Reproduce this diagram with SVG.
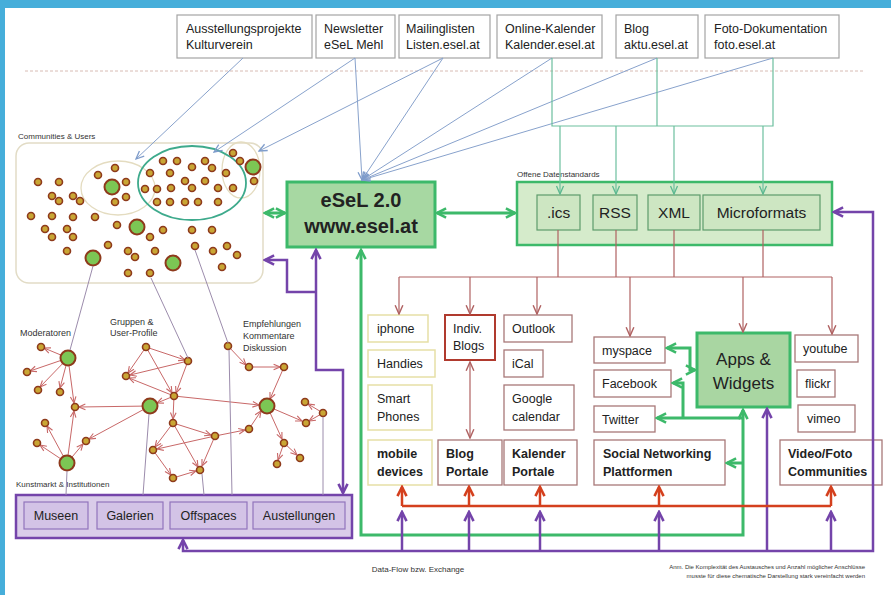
<svg xmlns="http://www.w3.org/2000/svg" width="891" height="595" viewBox="0 0 891 595">
<defs>
<style>
.t{font-family:"Liberation Sans",Arial,sans-serif;font-size:12.5px;fill:#222}
.b{font-weight:bold}
.s{font-family:"Liberation Sans",Arial,sans-serif;font-size:8px;fill:#333}
.l9{font-family:"Liberation Sans",Arial,sans-serif;font-size:9px;fill:#333}
.top{fill:#fff;stroke:#A4A4A4;stroke-width:1.2}
.yb{fill:#fff;stroke:#E6DFA6;stroke-width:1.5}
.rb{fill:#fff;stroke:#A87878;stroke-width:1.3}
.ib{fill:#CDE6C2;stroke:#5E9C6C;stroke-width:1.2}
.pb{fill:#D3C3E6;stroke:#9274BC;stroke-width:1.2}
.n{fill:#C9A634;stroke:#8E3A1C;stroke-width:1.6}
.N{fill:#7CC654;stroke:#8E3A1C;stroke-width:2}
.bl{stroke:#88A2CC;stroke-width:1;fill:none}
.gl{stroke:#6CBF9E;stroke-width:1.2;fill:none}
.br{stroke:#B06262;stroke-width:1.2;fill:none}
.ne{stroke:#C86868;stroke-width:1;fill:none;marker-end:url(#aN)}
.gy{stroke:#9C8CAC;stroke-width:1;fill:none}
.gg{stroke:#3DB96A;stroke-width:3;fill:none}
.pp{stroke:#7444AA;stroke-width:2.5;fill:none}
.rr{stroke:#D4401E;stroke-width:2.5;fill:none}
</style>
<marker id="aB" markerUnits="userSpaceOnUse" markerWidth="10" markerHeight="10" viewBox="0 0 10 10" refX="9" refY="5" orient="auto-start-reverse"><path d="M1,1.5 L9,5 L1,8.5" fill="none" stroke="#7E9CCB" stroke-width="1.3"/></marker>
<marker id="aG" markerUnits="userSpaceOnUse" markerWidth="10" markerHeight="10" viewBox="0 0 10 10" refX="9" refY="5" orient="auto-start-reverse"><path d="M1,1.5 L9,5 L1,8.5" fill="none" stroke="#5CB890" stroke-width="1.3"/></marker>
<marker id="aR" markerUnits="userSpaceOnUse" markerWidth="11" markerHeight="11" viewBox="0 0 10 10" refX="9" refY="5" orient="auto-start-reverse"><path d="M1,1.5 L9,5 L1,8.5" fill="none" stroke="#B06262" stroke-width="1.3"/></marker>
<marker id="aN" markerUnits="userSpaceOnUse" markerWidth="8" markerHeight="8" viewBox="0 0 10 10" refX="9" refY="5" orient="auto-start-reverse"><path d="M1,1.5 L9,5 L1,8.5" fill="none" stroke="#C86868" stroke-width="1.4"/></marker>
<marker id="aGG" markerUnits="userSpaceOnUse" markerWidth="13" markerHeight="13" viewBox="0 0 10 10" refX="8.5" refY="5" orient="auto-start-reverse"><path d="M1.5,1.5 L8.5,5 L1.5,8.5" fill="none" stroke="#3DB96A" stroke-width="2"/></marker>
<marker id="aP" markerUnits="userSpaceOnUse" markerWidth="13" markerHeight="13" viewBox="0 0 10 10" refX="8.5" refY="5" orient="auto-start-reverse"><path d="M1.5,1.5 L8.5,5 L1.5,8.5" fill="none" stroke="#7444AA" stroke-width="2"/></marker>
<marker id="aRR" markerUnits="userSpaceOnUse" markerWidth="13" markerHeight="13" viewBox="0 0 10 10" refX="8.5" refY="5" orient="auto-start-reverse"><path d="M1.5,1.5 L8.5,5 L1.5,8.5" fill="none" stroke="#D4401E" stroke-width="2"/></marker>
</defs>

<rect x="0" y="0" width="891" height="595" fill="#46AEDA"/>
<rect x="5" y="8" width="886" height="587" fill="#fff"/>
<line x1="25" y1="71" x2="865" y2="71" stroke="#D8BCB4" stroke-width="1" stroke-dasharray="3,2"/>

<!-- top nodes -->
<g id="ausstellungsprojekte"><rect class="top" x="177" y="15" width="135" height="43"/><text class="t" x="186" y="33">Ausstellungsprojekte</text><text class="t" x="186" y="49">Kulturverein</text></g>
<g id="newsletter"><rect class="top" x="316" y="15" width="79" height="43"/><text class="t" x="324" y="33">Newsletter</text><text class="t" x="324" y="49">eSeL Mehl</text></g>
<g id="mailinglisten"><rect class="top" x="399" y="15" width="91" height="43"/><text class="t" x="406" y="33">Mailinglisten</text><text class="t" x="406" y="49">Listen.esel.at</text></g>
<g id="kalender"><rect class="top" x="497" y="15" width="105" height="43"/><text class="t" x="505" y="33">Online-Kalender</text><text class="t" x="505" y="49">Kalender.esel.at</text></g>
<g id="blog"><rect class="top" x="616" y="15" width="82" height="43"/><text class="t" x="624" y="33">Blog</text><text class="t" x="624" y="49">aktu.esel.at</text></g>
<g id="foto"><rect class="top" x="705" y="15" width="134" height="43"/><text class="t" x="714" y="33">Foto-Dokumentation</text><text class="t" x="714" y="49">foto.esel.at</text></g>

<!-- communities -->
<g id="communities">
<text class="s" x="18" y="139">Communities &amp;  Users</text>
<rect x="16" y="143" width="247" height="140" rx="13" fill="#fff" stroke="#E2DCC6" stroke-width="1.5"/>
<ellipse cx="118" cy="188" rx="37" ry="27" fill="none" stroke="#E4DCC0" stroke-width="1.3"/>
<ellipse cx="241" cy="170" rx="19" ry="28" fill="none" stroke="#E4DCC0" stroke-width="1.3"/>
<ellipse cx="192" cy="183" rx="54" ry="37" fill="none" stroke="#3EAA8C" stroke-width="1.8"/>
<g>
<circle class="n" cx="115" cy="168" r="3.5"/><circle class="n" cx="98" cy="175" r="3.5"/><circle class="n" cx="126" cy="182" r="3.5"/><circle class="n" cx="126" cy="197" r="3.5"/><circle class="n" cx="115" cy="202" r="3.5"/><circle class="n" cx="38" cy="182" r="3.5"/><circle class="n" cx="59" cy="182" r="3.5"/><circle class="n" cx="52" cy="196" r="3.5"/><circle class="n" cx="59" cy="201" r="3.5"/><circle class="n" cx="73" cy="196" r="3.5"/><circle class="n" cx="80" cy="201" r="3.5"/><circle class="n" cx="31" cy="216" r="3.5"/><circle class="n" cx="52" cy="216" r="3.5"/><circle class="n" cx="73" cy="217" r="3.5"/><circle class="n" cx="95" cy="217" r="3.5"/><circle class="n" cx="45" cy="229" r="3.5"/><circle class="n" cx="52" cy="237" r="3.5"/><circle class="n" cx="67" cy="229" r="3.5"/><circle class="n" cx="73" cy="237" r="3.5"/><circle class="n" cx="67" cy="251" r="3.5"/><circle class="n" cx="117" cy="225" r="3.5"/><circle class="n" cx="150" cy="237" r="3.5"/><circle class="n" cx="163" cy="230" r="3.5"/><circle class="n" cx="108" cy="245" r="3.5"/><circle class="n" cx="128" cy="251" r="3.5"/><circle class="n" cx="135" cy="257" r="3.5"/><circle class="n" cx="155" cy="251" r="3.5"/><circle class="n" cx="128" cy="273" r="3.5"/><circle class="n" cx="150" cy="273" r="3.5"/><circle class="n" cx="192" cy="230" r="3.5"/><circle class="n" cx="212" cy="230" r="3.5"/><circle class="n" cx="195" cy="246" r="3.5"/><circle class="n" cx="213" cy="251" r="3.5"/><circle class="n" cx="227" cy="246" r="3.5"/><circle class="n" cx="237" cy="255" r="3.5"/><circle class="n" cx="222" cy="267" r="3.5"/>
<circle class="n" cx="163" cy="161" r="3.5"/><circle class="n" cx="177" cy="161" r="3.5"/><circle class="n" cx="192" cy="167" r="3.5"/><circle class="n" cx="205" cy="161" r="3.5"/><circle class="n" cx="212" cy="168" r="3.5"/><circle class="n" cx="150" cy="173" r="3.5"/><circle class="n" cx="170" cy="173" r="3.5"/><circle class="n" cx="185" cy="181" r="3.5"/><circle class="n" cx="192" cy="188" r="3.5"/><circle class="n" cx="205" cy="181" r="3.5"/><circle class="n" cx="226" cy="173" r="3.5"/><circle class="n" cx="145" cy="189" r="3.5"/><circle class="n" cx="157" cy="189" r="3.5"/><circle class="n" cx="171" cy="188" r="3.5"/><circle class="n" cx="218" cy="188" r="3.5"/><circle class="n" cx="233" cy="188" r="3.5"/><circle class="n" cx="157" cy="202" r="3.5"/><circle class="n" cx="170" cy="202" r="3.5"/><circle class="n" cx="185" cy="202" r="3.5"/><circle class="n" cx="198" cy="202" r="3.5"/><circle class="n" cx="218" cy="202" r="3.5"/><circle class="n" cx="233" cy="153" r="3.5"/><circle class="n" cx="240" cy="161" r="3.5"/><circle class="n" cx="254" cy="181" r="3.5"/>
<circle class="N" cx="112" cy="187" r="7.5"/><circle class="N" cx="137" cy="227" r="7.5"/><circle class="N" cx="93" cy="258" r="7.5"/><circle class="N" cx="173" cy="263" r="7.5"/><circle class="N" cx="253" cy="167" r="7.5"/>
</g>
</g>

<!-- eSeL -->
<g id="esel">
<rect x="287" y="182" width="148" height="65" fill="#A7D8A2" stroke="#3DB96A" stroke-width="3"/>
<text class="t b" x="361" y="207" text-anchor="middle" style="font-size:20px">eSeL 2.0</text>
<text class="t b" x="361" y="233" text-anchor="middle" style="font-size:20px">www.esel.at</text>
</g>

<!-- standards -->
<g id="standards">
<text class="s" x="517" y="177">Offene Datenstandards</text>
<rect x="517" y="182" width="315" height="63" fill="#D5EBCB" stroke="#3DB96A" stroke-width="2.5"/>
<rect class="ib" x="537" y="195" width="43" height="35"/><text class="t" x="558.5" y="218" text-anchor="middle" style="font-size:15.5px">.ics</text>
<rect class="ib" x="593" y="195" width="44" height="35"/><text class="t" x="615" y="218" text-anchor="middle" style="font-size:15.5px">RSS</text>
<rect class="ib" x="648" y="195" width="52" height="35"/><text class="t" x="674" y="218" text-anchor="middle" style="font-size:15.5px">XML</text>
<rect class="ib" x="703" y="195" width="117" height="35"/><text class="t" x="761.5" y="218" text-anchor="middle" style="font-size:15.5px">Microformats</text>
</g>

<!-- network graph -->
<g id="network">
<text class="l9" x="20" y="336">Moderatoren</text>
<text class="l9" x="110" y="325">Gruppen &amp;</text>
<text class="l9" x="110" y="336">User-Profile</text>
<text class="l9" x="243" y="327">Empfehlungen</text>
<text class="l9" x="243" y="339">Kommentare</text>
<text class="l9" x="243" y="351">Diskussion</text>
<g>
<line class="ne" x1="68" y1="358" x2="44" y2="348"/>
<line class="ne" x1="68" y1="358" x2="30" y2="371"/>
<line class="ne" x1="68" y1="358" x2="40" y2="387"/>
<line class="ne" x1="68" y1="358" x2="60" y2="388"/>
<line class="ne" x1="68" y1="358" x2="74" y2="403"/>
<line class="ne" x1="150" y1="406" x2="79" y2="407"/>
<line class="ne" x1="150" y1="406" x2="89" y2="439"/>
<line class="ne" x1="67" y1="463" x2="74" y2="411"/>
<line class="ne" x1="67" y1="463" x2="47" y2="426"/>
<line class="ne" x1="67" y1="463" x2="40" y2="445"/>
<line class="ne" x1="67" y1="463" x2="83" y2="444"/>
<line class="ne" x1="146" y1="347" x2="128" y2="373"/>
<line class="ne" x1="146" y1="347" x2="185" y2="360"/>
<line class="ne" x1="188" y1="361" x2="130" y2="375"/>
<line class="ne" x1="146" y1="347" x2="172" y2="393"/>
<line class="ne" x1="188" y1="361" x2="176" y2="393"/>
<line class="ne" x1="174" y1="396" x2="129" y2="378"/>
<line class="ne" x1="174" y1="396" x2="157" y2="403"/>
<line class="ne" x1="174" y1="396" x2="259" y2="405"/>
<line class="ne" x1="174" y1="396" x2="173" y2="419"/>
<line class="ne" x1="173" y1="423" x2="211" y2="435"/>
<line class="ne" x1="173" y1="423" x2="155" y2="447"/>
<line class="ne" x1="215" y1="436" x2="157" y2="449"/>
<line class="ne" x1="153" y1="450" x2="171" y2="475"/>
<line class="ne" x1="173" y1="478" x2="196" y2="471"/>
<line class="ne" x1="173" y1="423" x2="198" y2="467"/>
<line class="ne" x1="215" y1="436" x2="202" y2="466"/>
<line class="ne" x1="215" y1="436" x2="245" y2="430"/>
<line class="ne" x1="249" y1="429" x2="261" y2="411"/>
<line class="ne" x1="228" y1="346" x2="246" y2="365"/>
<line class="ne" x1="249" y1="367" x2="280" y2="367"/>
<line class="ne" x1="284" y1="367" x2="270" y2="399"/>
<line class="ne" x1="267" y1="406" x2="282" y2="439"/>
<line class="ne" x1="284" y1="443" x2="278" y2="460"/>
<line class="ne" x1="284" y1="443" x2="297" y2="455"/>
<line class="ne" x1="267" y1="406" x2="302" y2="421"/>
<line class="ne" x1="323" y1="413" x2="309" y2="421"/>
<line class="ne" x1="323" y1="413" x2="308" y2="404"/>
</g>
<g>
<circle class="n" cx="41" cy="347" r="3.5"/><circle class="n" cx="27" cy="372" r="3.5"/><circle class="n" cx="38" cy="390" r="3.5"/><circle class="n" cx="60" cy="392" r="3.5"/><circle class="n" cx="75" cy="407" r="3.5"/><circle class="n" cx="126" cy="376" r="3.5"/><circle class="n" cx="146" cy="347" r="3.5"/><circle class="n" cx="188" cy="361" r="3.5"/><circle class="n" cx="174" cy="396" r="3.5"/><circle class="n" cx="173" cy="423" r="3.5"/><circle class="n" cx="215" cy="436" r="3.5"/><circle class="n" cx="153" cy="450" r="3.5"/><circle class="n" cx="200" cy="470" r="3.5"/><circle class="n" cx="173" cy="478" r="3.5"/><circle class="n" cx="86" cy="441" r="3.5"/><circle class="n" cx="45" cy="423" r="3.5"/><circle class="n" cx="37" cy="443" r="3.5"/><circle class="n" cx="228" cy="346" r="3.5"/><circle class="n" cx="249" cy="367" r="3.5"/><circle class="n" cx="284" cy="367" r="3.5"/><circle class="n" cx="249" cy="429" r="3.5"/><circle class="n" cx="284" cy="443" r="3.5"/><circle class="n" cx="277" cy="464" r="3.5"/><circle class="n" cx="300" cy="458" r="3.5"/><circle class="n" cx="306" cy="423" r="3.5"/><circle class="n" cx="323" cy="413" r="3.5"/><circle class="n" cx="305" cy="402" r="3.5"/>
<circle class="N" cx="68" cy="358" r="7.5"/><circle class="N" cx="150" cy="406" r="7.5"/><circle class="N" cx="67" cy="463" r="7.5"/><circle class="N" cx="267" cy="406" r="7.5"/>
</g>
</g>

<!-- Kunstmarkt -->
<g id="kunstmarkt">
<text class="s" x="16" y="487">Kunstmarkt &amp; Institutionen</text>
<rect x="16" y="495" width="336" height="43" fill="#DACCE9" stroke="#7444AA" stroke-width="2.5"/>
<rect class="pb" x="24" y="502" width="64" height="27"/><text class="t" x="56" y="520" text-anchor="middle">Museen</text>
<rect class="pb" x="97" y="502" width="66" height="27"/><text class="t" x="130" y="520" text-anchor="middle">Galerien</text>
<rect class="pb" x="170" y="502" width="77" height="27"/><text class="t" x="208.5" y="520" text-anchor="middle">Offspaces</text>
<rect class="pb" x="253" y="502" width="92" height="27"/><text class="t" x="299" y="520" text-anchor="middle">Austellungen</text>
</g>

<!-- lower nodes -->
<g id="iphone"><rect class="yb" x="368" y="315" width="60" height="27"/><text class="t" x="377" y="333">iphone</text></g>
<g id="handies"><rect class="yb" x="368" y="350" width="67" height="27"/><text class="t" x="377" y="368">Handies</text></g>
<g id="smartphones"><rect class="yb" x="368" y="385" width="64" height="45"/><text class="t" x="377" y="403">Smart</text><text class="t" x="377" y="421">Phones</text></g>
<g id="mobile"><rect class="yb" x="368" y="440" width="64" height="45"/><text class="t b" x="377" y="458">mobile</text><text class="t b" x="377" y="476">devices</text></g>
<g id="indivblogs"><rect x="445" y="315" width="50" height="45" fill="#fff" stroke="#B03A2E" stroke-width="2"/><text class="t" x="453" y="333">Indiv.</text><text class="t" x="453" y="350">Blogs</text></g>
<g id="blogportale"><rect class="rb" x="438" y="440" width="64" height="45"/><text class="t b" x="446" y="458">Blog</text><text class="t b" x="446" y="476">Portale</text></g>
<g id="outlook"><rect class="rb" x="504" y="315" width="68" height="27"/><text class="t" x="512" y="333">Outlook</text></g>
<g id="ical"><rect class="rb" x="504" y="350" width="39" height="27"/><text class="t" x="512" y="368">iCal</text></g>
<g id="google"><rect class="rb" x="504" y="385" width="70" height="45"/><text class="t" x="512" y="403">Google</text><text class="t" x="512" y="421">calendar</text></g>
<g id="kalenderportale"><rect class="rb" x="504" y="440" width="73" height="45"/><text class="t b" x="512" y="458">Kalender</text><text class="t b" x="512" y="476">Portale</text></g>
<g id="myspace"><rect class="rb" x="594" y="337" width="71" height="26"/><text class="t" x="602" y="355">myspace</text></g>
<g id="facebook"><rect class="rb" x="594" y="370" width="77" height="27"/><text class="t" x="602" y="388">Facebook</text></g>
<g id="twitter"><rect class="rb" x="594" y="406" width="61" height="26"/><text class="t" x="602" y="424">Twitter</text></g>
<g id="social"><rect class="rb" x="594" y="440" width="131" height="45"/><text class="t b" x="603" y="458">Social Networking</text><text class="t b" x="603" y="476">Plattformen</text></g>
<g id="apps"><rect x="697" y="333" width="93" height="74" fill="#A9D6A2" stroke="#3DB96A" stroke-width="3"/><text class="t" x="743.5" y="365" text-anchor="middle" style="font-size:17px">Apps  &amp;</text><text class="t" x="743.5" y="389" text-anchor="middle" style="font-size:17px">Widgets</text></g>
<g id="youtube"><rect class="rb" x="795" y="335" width="63" height="27"/><text class="t" x="803" y="353">youtube</text></g>
<g id="flickr"><rect class="rb" x="797" y="370" width="38" height="27"/><text class="t" x="805" y="388">flickr</text></g>
<g id="vimeo"><rect class="rb" x="798" y="405" width="57" height="27"/><text class="t" x="807" y="423">vimeo</text></g>
<g id="videofoto"><rect class="rb" x="780" y="440" width="102" height="45"/><text class="t b" x="788" y="458">Video/Foto</text><text class="t b" x="788" y="476">Communities</text></g>

<!-- connectors -->
<g id="connectors">
<!-- blue from top -->
<line class="bl" x1="243" y1="58" x2="136" y2="159" marker-end="url(#aB)"/>
<line class="bl" x1="355" y1="58" x2="214" y2="152" marker-end="url(#aB)"/>
<line class="bl" x1="355" y1="58" x2="362" y2="180" marker-end="url(#aB)"/>
<line class="bl" x1="443" y1="58" x2="259" y2="151" marker-end="url(#aB)"/>
<line class="bl" x1="443" y1="58" x2="362" y2="180" marker-end="url(#aB)"/>
<line class="bl" x1="552" y1="58" x2="362" y2="180" marker-end="url(#aB)"/>
<line class="bl" x1="657" y1="58" x2="362" y2="180" marker-end="url(#aB)"/>
<line class="bl" x1="773" y1="58" x2="362" y2="180" marker-end="url(#aB)"/>
<!-- green thin -->
<path class="gl" d="M552,58 V126 H773 V58 M657,58 V126"/>
<line class="gl" x1="560" y1="126" x2="560" y2="194" marker-end="url(#aG)"/>
<line class="gl" x1="616" y1="126" x2="616" y2="194" marker-end="url(#aG)"/>
<line class="gl" x1="674" y1="126" x2="674" y2="194" marker-end="url(#aG)"/>
<line class="gl" x1="763" y1="126" x2="763" y2="194" marker-end="url(#aG)"/>
<!-- grey from communities -->
<line class="gy" x1="93" y1="266" x2="70" y2="350"/>
<line class="gy" x1="151" y1="278" x2="188" y2="358"/>
<line class="gy" x1="195" y1="250" x2="228" y2="343"/>
<line class="gy" x1="67" y1="471" x2="66" y2="495"/>
<line class="gy" x1="149" y1="414" x2="143" y2="495"/>
<line class="gy" x1="202" y1="474" x2="204" y2="495"/>
<line class="gy" x1="229" y1="350" x2="232" y2="495"/>
<line class="gy" x1="323" y1="417" x2="323" y2="495"/>
<!-- brown from standards -->
<path class="br" d="M558,230 V277 M616,230 V277 M674,230 V277 M763,230 V277 M399,277 H832"/>
<line class="br" x1="399" y1="277" x2="399" y2="314" marker-end="url(#aR)"/>
<line class="br" x1="470" y1="277" x2="470" y2="314" marker-end="url(#aR)"/>
<line class="br" x1="537" y1="277" x2="537" y2="314" marker-end="url(#aR)"/>
<line class="br" x1="630" y1="277" x2="630" y2="336" marker-end="url(#aR)"/>
<line class="br" x1="743" y1="277" x2="743" y2="332" marker-end="url(#aR)"/>
<line class="br" x1="832" y1="277" x2="832" y2="334" marker-end="url(#aR)"/>
<line class="br" x1="470" y1="362" x2="470" y2="438" marker-start="url(#aR)" marker-end="url(#aR)"/>
<!-- green thick -->
<line class="gg" x1="265" y1="213" x2="285" y2="213" marker-start="url(#aGG)" marker-end="url(#aGG)"/>
<line class="gg" x1="437" y1="213" x2="515" y2="213" marker-start="url(#aGG)" marker-end="url(#aGG)"/>
<path class="gg" d="M743,410 V535 H361 V250" marker-start="url(#aGG)" marker-end="url(#aGG)"/>
<path class="gg" d="M743,418 H657" marker-end="url(#aGG)"/>
<path class="gg" d="M683,418 V383 H673" marker-end="url(#aGG)"/>
<path class="gg" d="M743,463 H727" marker-end="url(#aGG)"/>
<path class="gg" d="M667,348 H690 V370 H695" marker-start="url(#aGG)" marker-end="url(#aGG)"/>
<!-- purple -->
<path class="pp" d="M316,250 V370 H343 V493" marker-start="url(#aP)" marker-end="url(#aP)"/>
<path class="pp" d="M316,292 H287 V260 H265" marker-end="url(#aP)"/>
<path class="pp" d="M183,540 V551 H873 V212 H834" marker-start="url(#aP)" marker-end="url(#aP)"/>
<line class="pp" x1="402" y1="551" x2="402" y2="512" marker-end="url(#aP)"/>
<line class="pp" x1="469" y1="551" x2="469" y2="512" marker-end="url(#aP)"/>
<line class="pp" x1="540" y1="551" x2="540" y2="512" marker-end="url(#aP)"/>
<line class="pp" x1="659" y1="551" x2="659" y2="512" marker-end="url(#aP)"/>
<line class="pp" x1="831" y1="551" x2="831" y2="512" marker-end="url(#aP)"/>
<line class="pp" x1="767" y1="551" x2="767" y2="409" marker-end="url(#aP)"/>
<!-- red -->
<line class="rr" x1="402" y1="506" x2="831" y2="506"/>
<line class="rr" x1="402" y1="506" x2="402" y2="487" marker-end="url(#aRR)"/>
<line class="rr" x1="469" y1="506" x2="469" y2="487" marker-end="url(#aRR)"/>
<line class="rr" x1="540" y1="506" x2="540" y2="487" marker-end="url(#aRR)"/>
<line class="rr" x1="659" y1="506" x2="659" y2="487" marker-end="url(#aRR)"/>
<line class="rr" x1="831" y1="506" x2="831" y2="487" marker-end="url(#aRR)"/>
</g>

<text class="s" x="418" y="572" text-anchor="middle">Data-Flow bzw. Exchange</text>
<text class="s" x="865" y="569" text-anchor="end" style="font-size:6px">Anm. Die Komplexität des Austausches und Anzahl möglicher Anschlüsse</text>
<text class="s" x="865" y="578" text-anchor="end" style="font-size:6px">musste für diese chematische Darstellung stark vereinfacht werden</text>
</svg>
